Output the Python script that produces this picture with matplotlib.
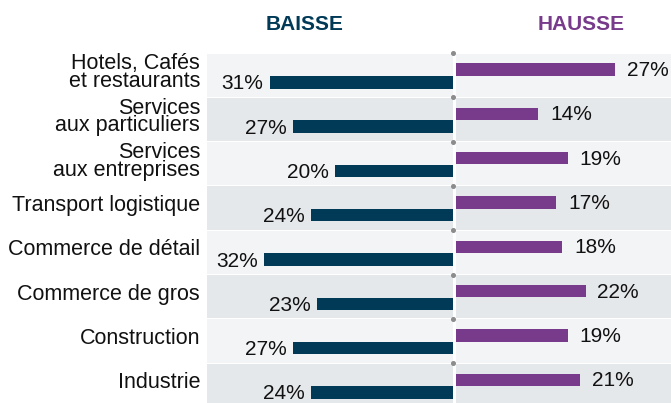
import matplotlib
matplotlib.use("Agg")
import matplotlib.pyplot as plt
import numpy as np

plt.rcParams['font.family'] = ['Liberation Sans', 'DejaVu Sans']

categories = ["Hotels, Cafés\net restaurants", "Services\naux particuliers",
              "Services\naux entreprises", "Transport logistique",
              "Commerce de détail", "Commerce de gros", "Construction", "Industrie"]
baisse = [31, 27, 20, 24, 32, 23, 27, 24]
hausse = [27, 14, 19, 17, 18, 22, 19, 21]
title_baisse = "BAISSE"
title_hausse = "HAUSSE"

NAVY = "#003A57"
PURPLE = "#783A8B"
LIGHT = "#F3F4F6"
DARK = "#E5E8EB"

W, H = 671, 403
fig = plt.figure(figsize=(W / 100, H / 100), dpi=100)
ax_left = 207 / W
ax_top = 1 - 53 / H
ax = fig.add_axes([ax_left, 0, 1 - ax_left, ax_top])

pxu = 5.9           # pixels per percent
center_px = 452.5
xmin = -(center_px - 207) / pxu
xmax = (W - center_px) / pxu
gap = 3.2 / pxu
row_px = 44.3
n = len(categories)
ax.set_xlim(xmin, xmax)
ax.set_ylim(350 / row_px, 0)
ax.axis('off')

y = np.arange(n) + 0.5
# row backgrounds
for i in range(n):
    c = LIGHT if i % 2 == 0 else DARK
    ax.fill_between([xmin, 0.05], i + 0.012, i + 1 - 0.012, color=c, lw=0, zorder=0)
    ax.fill_between([gap, xmax], i + 0.012, i + 1 - 0.012, color=c, lw=0, zorder=0)

bh = 12.4 / row_px
yr = y - 5.5 / row_px
yl = y + 7.2 / row_px
ax.barh(yl, [-v for v in baisse], height=bh, left=0, color=NAVY, zorder=2)
ax.barh(yr, hausse, height=bh, left=gap, color=PURPLE, zorder=2)

# center dots
ax.plot([0.05] * (n + 1), np.arange(n + 1), ls='none', marker='o', ms=2.6,
        color='#8C8C8C', zorder=3, clip_on=False)

for i in range(n):
    ax.text(-baisse[i] - 6 / pxu, yl[i] + 1.5 / row_px, f"{baisse[i]}%",
            ha='right', va='center', fontsize=15, color='#111111', zorder=4)
    ax.text(gap + hausse[i] + 12 / pxu, yr[i] + 1 / row_px, f"{hausse[i]}%",
            ha='left', va='center', fontsize=15,
            color='#111111', zorder=4, clip_on=False)
    ax.text(-(center_px - 200) / pxu, y[i] - 2.5 / row_px, categories[i],
            ha='right', va='center', fontsize=15.5, color='#111111',
            linespacing=0.8, multialignment='right', clip_on=False)

fig.text(305 / W, 1 - 25 / H, title_baisse, ha='center', va='center',
         fontsize=15, fontweight='bold', color=NAVY)
fig.text(581 / W, 1 - 25 / H, title_hausse, ha='center', va='center',
         fontsize=15, fontweight='bold', color=PURPLE)

fig.savefig("out.png", dpi=100)
